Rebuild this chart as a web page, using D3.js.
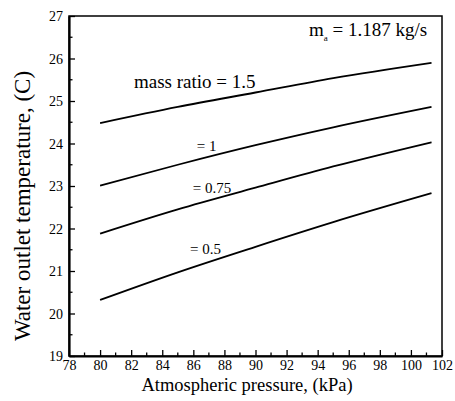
<!DOCTYPE html>
<html>
<head>
<meta charset="utf-8">
<script src="https://cdn.jsdelivr.net/npm/d3@7"></script>
<style>
  body { margin: 0; background: #fff; }
  svg text { font-family: "Liberation Serif", "Times New Roman", serif; fill: #000; }
</style>
</head>
<body>
<div id="divChart"></div>
<script>
// pressure points (kPa)
var pressure = [80, 85, 90, 95, 101.325];
// water outlet temperature (C) for each mass ratio
var temp15 = [24.48, 24.86, 25.2, 25.54, 25.9];
var temp1 = [23.01, 23.5, 23.96, 24.38, 24.86];
var temp075 = [21.88, 22.45, 22.96, 23.46, 24.03];
var temp05 = [20.32, 20.97, 21.57, 22.15, 22.83];
var seriesNames = ["mass ratio = 1.5", "= 1", "= 0.75", "= 0.5"];
var xTicks = [78, 80, 82, 84, 86, 88, 90, 92, 94, 96, 98, 100, 102];
var yTicks = [19, 20, 21, 22, 23, 24, 25, 26, 27];

function init()
{
    var width = 455;
    var height = 401;
    var margin = {left: 69, right: 13, top: 16, bottom: 45};
    var serif = "'Liberation Serif', 'Times New Roman', serif";

    var svg = d3.select("#divChart").append("svg")
        .attr("width", width)
        .attr("height", height);

    var scaleX = d3.scaleLinear()
        .domain([78, 102])
        .range([margin.left, width - margin.right]);
    var scaleY = d3.scaleLinear()
        .domain([19, 27])
        .range([height - margin.bottom, margin.top]);

    // frame (top and right)
    svg.append("rect")
        .attr("x", margin.left)
        .attr("y", margin.top)
        .attr("width", scaleX(102) - margin.left)
        .attr("height", scaleY(19) - margin.top)
        .style("fill", "none")
        .style("stroke", "#000")
        .style("stroke-width", 1.5);

    // minor ticks
    var xMinor = d3.range(79, 102, 2);
    var yMinor = d3.range(19.5, 27, 1);
    svg.selectAll(".xminor").data(xMinor).enter().append("line")
        .attr("x1", d => scaleX(d)).attr("x2", d => scaleX(d))
        .attr("y1", scaleY(19)).attr("y2", scaleY(19) - 3.5)
        .style("stroke", "#000").style("stroke-width", 1.3);
    svg.selectAll(".yminor").data(yMinor).enter().append("line")
        .attr("x1", margin.left).attr("x2", margin.left + 3.5)
        .attr("y1", d => scaleY(d)).attr("y2", d => scaleY(d))
        .style("stroke", "#000").style("stroke-width", 1.3);

    // x axis, ticks inward
    var xAxis = d3.axisBottom(scaleX).tickValues(xTicks)
        .tickSizeInner(-6).tickSizeOuter(0);
    var gx = svg.append("g")
        .attr("transform", "translate(0," + scaleY(19) + ")")
        .call(xAxis);

    var yAxis = d3.axisLeft(scaleY).tickValues(yTicks)
        .tickSizeInner(-6).tickSizeOuter(0).tickPadding(6);
    var gy = svg.append("g")
        .attr("transform", "translate(" + margin.left + ",0)")
        .call(yAxis);

    [gx, gy].forEach(function(g) {
        g.attr("font-family", serif).attr("font-size", 14);
        g.select(".domain").style("stroke", "#000").style("stroke-width", 2.2);
        g.selectAll(".tick line").style("stroke", "#000").style("stroke-width", 1.3);
        g.selectAll(".tick text")
            .style("font-family", serif)
            .style("font-size", "14px")
            .style("fill", "#000");
    });
    gx.selectAll(".tick text").attr("y", 14).attr("dy", 0);
    gy.selectAll(".tick text").attr("dy", "0.34em");

    // curves
    var line = d3.line()
        .x(function(d){ return scaleX(d.x); })
        .y(function(d){ return scaleY(d.y); })
        .curve(d3.curveMonotoneX);

    var allSeries = [temp15, temp1, temp075, temp05];
    allSeries.forEach(function(vals) {
        var data = pressure.map(function(p, i) { return {x: p, y: vals[i]}; });
        svg.append("path")
            .attr("d", line(data))
            .style("fill", "none")
            .style("stroke", "#000")
            .style("stroke-width", 1.8);
    });

    // curve labels
    var labelPos = [
        {x: 82.18, y: 25.31, size: 19},
        {x: 86.22, y: 23.82, size: 15},
        {x: 85.96, y: 22.84, size: 15},
        {x: 85.79, y: 21.39, size: 15}
    ];
    seriesNames.forEach(function(name, i) {
        svg.append("text")
            .attr("x", scaleX(labelPos[i].x))
            .attr("y", scaleY(labelPos[i].y))
            .style("font-family", serif)
            .style("font-size", labelPos[i].size + "px")
            .text(name);
    });

    // annotation
    var ann = svg.append("text")
        .attr("x", 309)
        .attr("y", 36)
        .style("font-family", serif)
        .style("font-size", "19px");
    ann.append("tspan").text("m");
    ann.append("tspan").attr("dy", 5).style("font-size", "9px").text("a");
    ann.append("tspan").attr("dy", -5).text(" = 1.187 kg/s");

    // axis titles
    svg.append("text")
        .attr("x", 247)
        .attr("y", 391)
        .attr("text-anchor", "middle")
        .style("font-family", serif)
        .style("font-size", "18.5px")
        .text("Atmospheric pressure, (kPa)");

    svg.append("text")
        .attr("transform", "translate(30,206) rotate(-90)")
        .attr("text-anchor", "middle")
        .style("font-family", serif)
        .style("font-size", "23px")
        .text("Water outlet temperature, (C)");
}

window.onload = init;
</script>
</body>
</html>
